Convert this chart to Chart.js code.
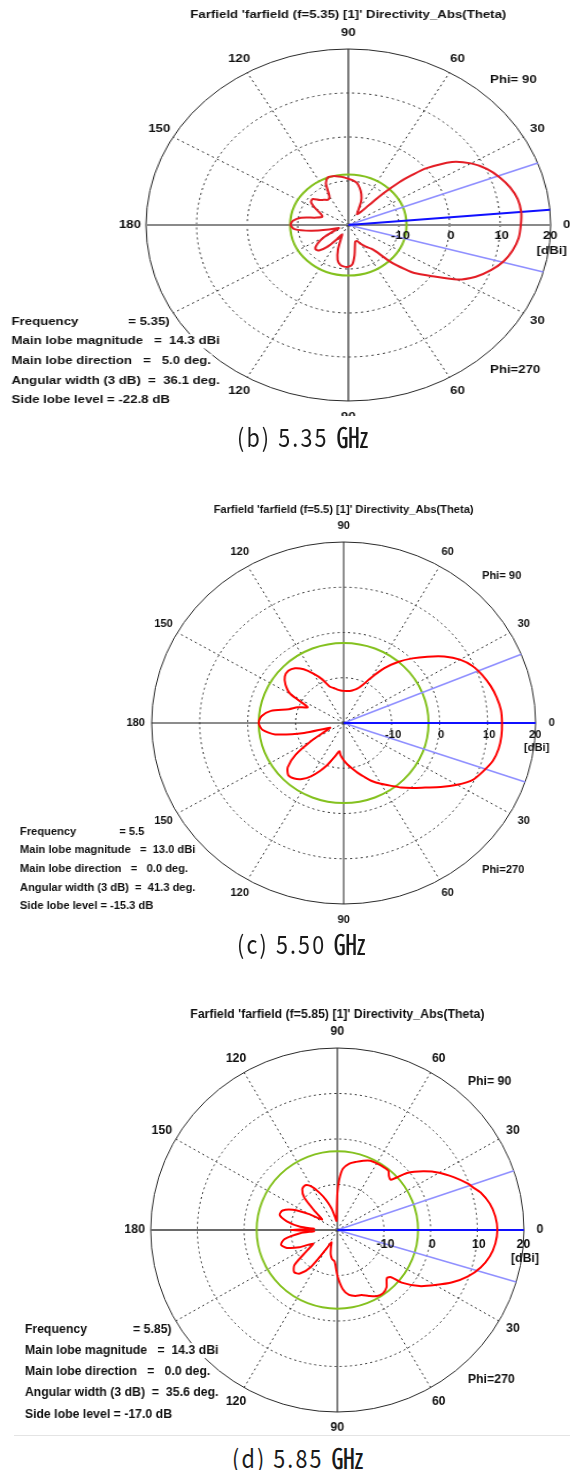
<!DOCTYPE html>
<html>
<head>
<meta charset="utf-8">
<title>Farfield directivity patterns</title>
<script src="https://cdn.jsdelivr.net/npm/chart.js@4.4.1/dist/chart.umd.min.js"></script>
<style>
  html, body { margin: 0; padding: 0; background: #fff; }
  body { position: relative; width: 570px; height: 1470px; overflow: hidden; }
  .panel { position: absolute; left: 0; transform-origin: 0 0; }
  .panel canvas { display: block; }
  .caption { position: absolute; white-space: nowrap; font-family: "Noto Sans CJK KR", "Noto Sans", sans-serif;
             font-weight: 400; font-size: 25px; line-height: 30px; height: 30px; color: #1a1a1a;
             letter-spacing: 2.5px; transform-origin: 0 50%; transform: scaleX(0.86); }
  .caption .u { display: inline-block; transform: scale(1.5, 1.12); transform-origin: 0 60%; letter-spacing: 0; }
  .rule { position: absolute; left: 14px; right: 0; height: 0; border-top: 1px solid #e4e4e4; }
</style>
</head>
<body>
<div class="panel" id="wrapB"><canvas id="chartB"></canvas></div>
<div class="panel" id="wrapC"><canvas id="chartC"></canvas></div>
<div class="panel" id="wrapD"><canvas id="chartD"></canvas></div>
<div class="caption" style="left:237px; top:421px;">(b) 5.35 <span class="u">㎓</span></div>
<div class="caption" style="left:237px; top:928px;">(c) 5.50 <span class="u">㎓</span></div>
<div class="caption" style="left:232px; top:1442px;">(d) 5.85 <span class="u">㎓</span></div>
<div class="rule" style="top:1435px;"></div>
<script>
// Angle ring labels (screen angle counter-clockwise from 0 on the right: upper half is Phi=90, lower half Phi=270)
const labelAngles = [0, 30, 60, 90, 120, 150, 180, 210, 240, 270, 300, 330];
const labelTexts  = ['0', '30', '60', '90', '120', '150', '180', '150', '120', '90', '60', '30'];
// Radial rings in dBi
const ringValues = [-10, 0, 10, 20];
const ringTexts  = ['-10', '0', '10', '20'];

// ---- f = 5.35 GHz ----
const titleB = "Farfield 'farfield (f=5.35) [1]' Directivity_Abs(Theta)";
const thetaB = [
  0, 5, 10, 15, 20, 25, 30, 35, 40, 42,
  44, 46, 48, 50, 55, 60, 65, 70, 75, 80,
  85, 90, 95, 100, 105, 110, 115, 120, 125, 130,
  135, 140, 145, 150, 155, 160, 165, 170, 175, 180,
  185, 190, 195, 200, 205, 210, 215, 220, 225, 230,
  235, 240, 245, 250, 255, 260, 265, 270, 275, 280,
  285, 290, 295, 300, 305, 310, 312, 315, 318, 320,
  325, 330, 335, 340, 345, 350, 355];
const dirB = [
  14.1, 14.3, 14.0, 13.1, 11.8, 10.2, 8.0, 5.0, 0.0, -3.0,
  -6.0, -10.0, -14.0, -16.0, -17.0, -16.0, -14.0, -12.5, -11.3, -10.3,
  -9.8, -9.5, -9.1, -8.8, -8.5, -8.4, -9.5, -12.5, -13.0, -12.5,
  -12.0, -10.8, -11.0, -12.5, -14.0, -14.5, -13.5, -10.5, -9.0, -8.6,
  -9.3, -12.5, -16.0, -18.0, -17.0, -14.5, -12.5, -11.5, -11.8, -13.5,
  -16.0, -17.5, -16.5, -14.0, -11.8, -10.8, -10.5, -10.5, -11.0, -13.0,
  -15.0, -16.0, -16.0, -15.0, -14.0, -13.0, -12.0, -8.0, -5.0, -3.0,
  0.3, 4.8, 7.8, 10.0, 11.8, 13.0, 13.8];
const beamB = [20.6, -15.5];
const infoB = ['Frequency', '= 5.35)', 'Main lobe magnitude   =  14.3 dBi', 'Main lobe direction   =   5.0 deg.',
               'Angular width (3 dB)  =  36.1 deg.', 'Side lobe level = -22.8 dB'];

// ---- f = 5.5 GHz ----
const titleC = "Farfield 'farfield (f=5.5) [1]' Directivity_Abs(Theta)";
const thetaC = [
  0, 5, 10, 15, 20, 25, 30, 35, 40, 45,
  50, 55, 60, 65, 70, 75, 80, 85, 90, 95,
  100, 105, 110, 115, 120, 125, 130, 135, 140, 145,
  150, 155, 160, 165, 170, 175, 180, 185, 190, 195,
  200, 205, 210, 215, 220, 225, 230, 235, 240, 245,
  250, 255, 260, 262, 265, 270, 275, 280, 285, 290,
  295, 300, 305, 310, 315, 320, 325, 330, 335, 340,
  345, 350, 355];
const dirC = [
  13.0, 12.9, 12.4, 11.7, 10.8, 9.7, 8.0, 5.6, 2.8, 0.2,
  -2.4, -5.2, -8.3, -10.8, -12.0, -12.5, -12.8, -12.9, -12.9, -12.8,
  -12.5, -12.0, -11.4, -9.3, -7.4, -5.5, -4.2, -3.7, -4.0, -5.2,
  -7.2, -11.7, -9.8, -8.2, -4.6, -2.8, -2.3, -3.0, -5.5, -11.5,
  -17.0, -16.0, -12.5, -7.8, -4.8, -3.7, -4.0, -4.9, -6.4, -8.3,
  -10.2, -12.0, -13.4, -13.7, -12.8, -11.8, -10.8, -9.8, -8.6, -7.3,
  -5.8, -4.5, -3.1, -1.4, 0.3, 2.2, 4.7, 7.3, 9.7, 11.0,
  12.2, 12.8, 13.0];
const beamC = [22.3, -19.0];
const infoC = ['Frequency', '= 5.5', 'Main lobe magnitude   =  13.0 dBi', 'Main lobe direction   =   0.0 deg.',
               'Angular width (3 dB)  =  41.3 deg.', 'Side lobe level = -15.3 dB'];

// ---- f = 5.85 GHz ----
const titleD = "Farfield 'farfield (f=5.85) [1]' Directivity_Abs(Theta)";
const thetaD = [
  0, 5, 10, 15, 18, 20, 25, 30, 35, 40,
  44, 47, 50, 55, 60, 65, 70, 75, 80, 85,
  88, 90, 92, 95, 100, 105, 110, 115, 120, 125,
  130, 135, 140, 145, 150, 155, 160, 165, 170, 175,
  177, 180, 183, 185, 190, 195, 200, 205, 210, 215,
  220, 225, 230, 235, 240, 245, 250, 255, 260, 265,
  270, 275, 280, 285, 290, 295, 300, 305, 310, 315,
  318, 320, 325, 330, 335, 340, 345, 350, 355];
const dirD = [
  14.3, 14.0, 13.2, 11.8, 10.5, 9.8, 7.5, 5.2, 2.5, -0.5,
  -4.1, -3.8, -3.0, -3.0, -3.1, -3.2, -3.8, -4.5, -5.2, -6.5,
  -9.0, -12.0, -16.0, -18.0, -17.0, -15.0, -13.0, -11.0, -9.0, -8.0,
  -8.3, -10.0, -14.0, -16.0, -13.0, -9.5, -7.5, -7.2, -9.0, -12.0,
  -15.0, -10.0, -15.0, -12.0, -8.5, -7.5, -8.5, -11.0, -14.0, -12.0,
  -8.0, -6.9, -7.5, -10.0, -15.0, -17.0, -16.0, -14.5, -13.5, -13.1,
  -10.0, -7.0, -5.5, -5.0, -4.8, -4.0, -3.2, -3.0, -3.6, -5.0,
  -4.5, -2.0, 1.5, 4.2, 7.2, 9.8, 11.8, 13.2, 14.0];
const beamD = [19.0, -16.6];
const infoD = ['Frequency', '= 5.85)', 'Main lobe magnitude   =  14.3 dBi', 'Main lobe direction   =   0.0 deg.',
               'Angular width (3 dB)  =  35.6 deg.', 'Side lobe level = -17.0 dB'];

// One category per degree; category i points (360 - i) degrees counter-clockwise from the right.
const gridLabels = Array.from({ length: 360 }, (_, i) => String((360 - i) % 360));
function toRadar(angles, values) {
  const out = new Array(360).fill(null);
  angles.forEach((a, k) => { out[(360 - a) % 360] = values[k]; });
  return out;
}

const FONT = '"Liberation Sans", Arial, Helvetica, sans-serif';

// Sidelobe circle, beam-edge rays and all the lettering of a CST-style polar plot.
const polarDecor = {
  id: 'polarDecor',
  beforeDatasetsDraw(chart, args, o) {
    const s = chart.scales.r, ctx = chart.ctx;
    const R = s.getDistanceFromCenterForValue(s.max);
    ctx.save();
    ctx.strokeStyle = '#84c11f';
    ctx.lineWidth = 2;
    ctx.beginPath();
    ctx.arc(s.xCenter, s.yCenter, s.getDistanceFromCenterForValue(o.mag + o.sll), 0, Math.PI * 2);
    ctx.stroke();
    const ray = (deg, color, w) => {
      const t = deg * Math.PI / 180;
      ctx.strokeStyle = color; ctx.lineWidth = w;
      ctx.beginPath();
      ctx.moveTo(s.xCenter, s.yCenter);
      ctx.lineTo(s.xCenter + R * Math.cos(t), s.yCenter - R * Math.sin(t));
      ctx.stroke();
    };
    ray(o.beam[0], '#8f8fff', 1.6);
    ray(o.beam[1], '#8f8fff', 1.6);
    ray(o.dirDeg, '#1010ff', 2);
    ctx.restore();
  },
  afterDraw(chart, args, o) {
    const s = chart.scales.r, ctx = chart.ctx;
    const R = s.getDistanceFromCenterForValue(s.max);
    const sx = o.sx;
    const X = (px) => px / sx;          // page x -> canvas x
    const Y = (py) => py - o.top;       // page y -> canvas y
    ctx.save();
    ctx.fillStyle = '#111';
    ctx.font = `bold ${o.font}px ${FONT}`;
    // title
    ctx.textAlign = 'center'; ctx.textBaseline = 'middle';
    ctx.fillText(o.title, s.xCenter, Y(o.titleY));
    // angle labels just outside the rim
    labelAngles.forEach((a, k) => {
      const t = a * Math.PI / 180;
      const x = s.xCenter + (R + X(16)) * Math.cos(t);
      const y = s.yCenter - (R + 16) * Math.sin(t);
      ctx.fillText(labelTexts[k], x, y);
    });
    // ring values along the 0 direction
    ringValues.forEach((v, k) => {
      const d = s.getDistanceFromCenterForValue(v);
      ctx.fillText(ringTexts[k], s.xCenter + d + X(k < 3 ? 1.5 : -0.5), s.yCenter + o.tickDy);
    });
    ctx.fillText('[dBi]', s.xCenter + R + X(1), s.yCenter + o.unitDy);
    // plane labels
    ctx.textAlign = 'left';
    ctx.fillText('Phi= 90', X(o.phiX), Y(o.phi90Y));
    ctx.fillText('Phi=270', X(o.phiX), Y(o.phi270Y));
    // result summary, each entry on a white backing
    const put = (txt, px, py) => {
      const w = ctx.measureText(txt).width;
      ctx.fillStyle = '#fff';
      ctx.fillRect(X(px) - 1, Y(py) - o.font * 0.62, w + 2, o.font * 1.24);
      ctx.fillStyle = '#111';
      ctx.fillText(txt, X(px), Y(py));
    };
    const info = o.info;
    put(info[0], o.infoX, o.infoY);
    put(info[1], o.valX, o.infoY);
    for (let k = 2; k < info.length; k++) put(info[k], o.infoX, o.infoY + (k - 1) * o.infoDy);
    ctx.restore();
  }
};

const panels = [
  { wrap: 'wrapB', canvas: 'chartB', top: 0, bottom: 416, cx: 348.5, cy: 225.5, rx: 202.5, ry: 176.5, font: 11.5,
    title: titleB, titleY: 15, theta: thetaB, dir: dirB, beam: beamB, info: infoB,
    mag: 14.3, dirDeg: 5.0, sll: -22.8, red: '#e31d25',
    infoX: 11.5, infoY: 321.7, infoDy: 19.6, valX: 128, phiX: 489, phi90Y: 80, phi270Y: 370,
    tickDy: 10.5, unitDy: 26, hAxis: '#8a8a8a', hW: 2, vAxis: '#333', vW: 1.3 },
  { wrap: 'wrapC', canvas: 'chartC', top: 490, bottom: 930, cx: 344.5, cy: 723, rx: 192.5, ry: 181.5, font: 10.5,
    title: titleC, titleY: 510, theta: thetaC, dir: dirC, beam: beamC, info: infoC,
    mag: 13.0, dirDeg: 0.0, sll: -15.3, red: '#ff0000',
    infoX: 20, infoY: 831.7, infoDy: 18.7, valX: 119.3, phiX: 482, phi90Y: 575.7, phi270Y: 870,
    tickDy: 12, unitDy: 25.3, hAxis: '#1a1a1a', hW: 1, vAxis: '#1a1a1a', vW: 1 },
  { wrap: 'wrapD', canvas: 'chartD', top: 995, bottom: 1434, cx: 337.5, cy: 1230.5, rx: 187.3, ry: 183, font: 12,
    title: titleD, titleY: 1014.3, theta: thetaD, dir: dirD, beam: beamD, info: infoD,
    mag: 14.3, dirDeg: 0.0, sll: -17.0, red: '#ff0000',
    infoX: 24.7, infoY: 1329.3, infoDy: 21.25, valX: 132.7, phiX: 467, phi90Y: 1081.7, phi270Y: 1379.3,
    tickDy: 14.5, unitDy: 28.5, hAxis: '#6a6a6a', hW: 2, vAxis: '#333', vW: 1.3 }
];

panels.forEach(p => {
  const sx = p.rx / p.ry;
  const W = 570 / sx, H = p.bottom - p.top;
  const cxl = p.cx / sx, cyl = p.cy - p.top;
  const wrap = document.getElementById(p.wrap);
  wrap.style.top = p.top + 'px';
  wrap.style.width = W + 'px';
  wrap.style.height = H + 'px';
  wrap.style.transform = `scale(${sx}, 1)`;

  new Chart(document.getElementById(p.canvas), {
    type: 'radar',
    data: {
      labels: gridLabels,
      datasets: [{
        data: toRadar(p.theta, p.dir),
        borderColor: p.red,
        borderWidth: 2,
        pointRadius: 0,
        pointHoverRadius: 0,
        fill: false,
        spanGaps: true,
        tension: 0.25
      }]
    },
    options: {
      responsive: true,
      maintainAspectRatio: false,
      animation: false,
      events: [],
      layout: { padding: { left: cxl - p.ry, right: W - cxl - p.ry, top: cyl - p.ry, bottom: H - cyl - p.ry } },
      plugins: {
        legend: { display: false },
        tooltip: { enabled: false },
        polarDecor: { sx, top: p.top, font: p.font, title: p.title, titleY: p.titleY, info: p.info,
                      infoX: p.infoX, infoY: p.infoY, infoDy: p.infoDy, valX: p.valX,
                      phiX: p.phiX, phi90Y: p.phi90Y, phi270Y: p.phi270Y, tickDy: p.tickDy, unitDy: p.unitDy,
                      mag: p.mag, sll: p.sll, dirDeg: p.dirDeg, beam: p.beam }
      },
      scales: {
        r: {
          min: -20, max: 20, startAngle: 90,
          ticks: { display: false, stepSize: 10 },
          pointLabels: { display: false },
          grid: { circular: true, color: ctx => (ctx.tick && ctx.tick.value === 20 ? '#2a2a2a' : '#333'), lineWidth: 1 },
          border: { dash: ctx => (ctx.tick && ctx.tick.value === 20 ? [] : [2, 3]) },
          angleLines: {
            color: ctx => (ctx.index % 180 === 0 ? p.hAxis : (ctx.index % 90 === 0 ? p.vAxis : '#333')),
            lineWidth: ctx => (ctx.index % 30 !== 0 ? 0 : (ctx.index % 180 === 0 ? p.hW : (ctx.index % 90 === 0 ? p.vW : 1))),
            borderDash: ctx => (ctx.index % 90 === 0 ? [] : [2, 3])
          }
        }
      }
    },
    plugins: [polarDecor]
  });
});
</script>
</body>
</html>
